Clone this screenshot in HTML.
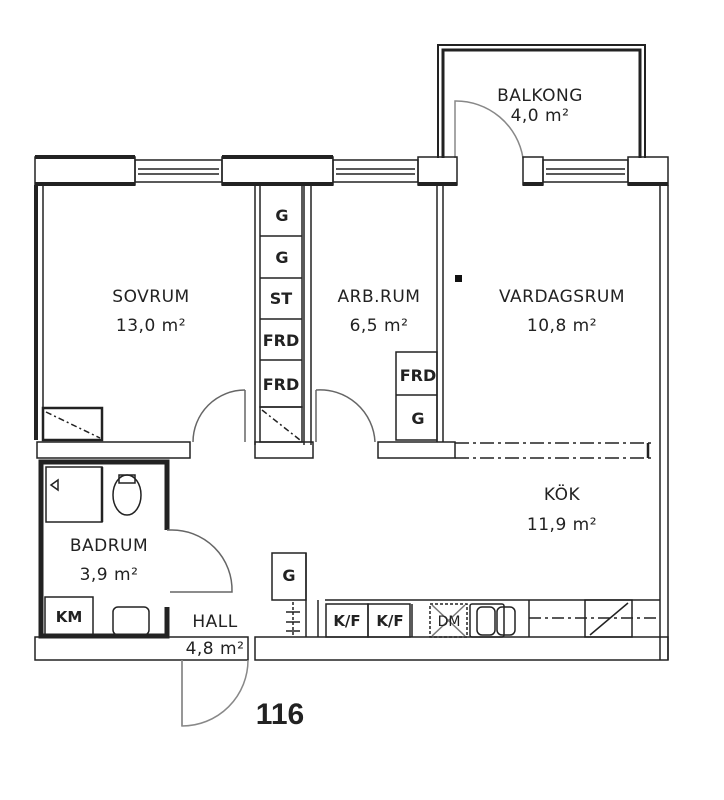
<!DOCTYPE html>
<html><head><meta charset="utf-8"><style>
html,body{margin:0;padding:0;background:#fff}
svg{display:block}
text{font-family:"DejaVu Sans","Liberation Sans",sans-serif;fill:#222}
.lbl{font-size:17px;letter-spacing:0.5px}
.bx{font-family:"Liberation Sans",sans-serif;font-size:16px;font-weight:bold}
</style></head><body>
<svg width="724" height="800" viewBox="0 0 724 800" xmlns="http://www.w3.org/2000/svg">
<g fill="none" stroke="#222" stroke-width="1.5">
<!-- balcony -->
<path d="M438 158 V45 H645 V158" stroke-width="2"/>
<path d="M443 158 V50 H640 V158" stroke-width="3"/>
<!-- balcony door -->
<path d="M455 158 V101 A68 68 0 0 1 523 158" stroke="#888"/>
<!-- top wall -->
<rect x="35" y="157" width="100" height="28" />
<rect x="222" y="157" width="111" height="28"/>
<rect x="418" y="157" width="39" height="28"/>
<rect x="523" y="157" width="20" height="28"/>
<rect x="628" y="157" width="40" height="28"/>
<line x1="35" y1="157" x2="135" y2="157" stroke-width="4"/>
<line x1="222" y1="157" x2="333" y2="157" stroke-width="4"/>
<line x1="35" y1="184" x2="135" y2="184" stroke-width="4"/>
<line x1="222" y1="184" x2="333" y2="184" stroke-width="4"/>
<line x1="418" y1="184" x2="457" y2="184" stroke-width="4"/>
<line x1="523" y1="184" x2="543" y2="184" stroke-width="4"/>
<line x1="628" y1="184" x2="668" y2="184" stroke-width="4"/>
<!-- windows -->
<g>
<rect x="135" y="160" width="87" height="22"/><line x1="138" y1="169" x2="219" y2="169"/><line x1="138" y1="174" x2="219" y2="174"/>
<rect x="333" y="160" width="85" height="22"/><line x1="336" y1="169" x2="415" y2="169"/><line x1="336" y1="174" x2="415" y2="174"/>
<rect x="543" y="160" width="85" height="22"/><line x1="546" y1="169" x2="625" y2="169"/><line x1="546" y1="174" x2="625" y2="174"/>
</g>
<!-- left wall -->
<line x1="36" y1="185" x2="36" y2="440" stroke-width="4"/>
<line x1="43" y1="185" x2="43" y2="440"/>
<!-- right wall -->
<line x1="660" y1="185" x2="660" y2="660"/>
<line x1="668" y1="185" x2="668" y2="660"/>
<!-- closet column -->
<rect x="260" y="185" width="42" height="222"/>
<line x1="260" y1="236" x2="302" y2="236"/>
<line x1="260" y1="278" x2="302" y2="278"/>
<line x1="260" y1="319" x2="302" y2="319"/>
<line x1="260" y1="360" x2="302" y2="360"/>
<line x1="255" y1="185" x2="255" y2="445"/>
<rect x="260" y="407" width="42" height="35"/>
<line x1="262" y1="410" x2="300" y2="440" stroke-dasharray="6 3 2 3"/>
<line x1="304" y1="185" x2="304" y2="445"/>
<line x1="311" y1="185" x2="311" y2="445"/>
<!-- arb/vardagsrum wall -->
<line x1="437" y1="185" x2="437" y2="442"/>
<line x1="443" y1="185" x2="443" y2="442"/>
<rect x="396" y="352" width="41" height="88"/>
<line x1="396" y1="395" x2="437" y2="395"/>
<!-- sovrum box -->
<rect x="43" y="408" width="59" height="32" stroke-width="2.5"/>
<line x1="46" y1="412" x2="100" y2="438" stroke-dasharray="6 3 2 3"/>
<!-- horizontal wall row -->
<rect x="37" y="442" width="153" height="16"/>
<rect x="255" y="442" width="58" height="16"/>
<rect x="378" y="442" width="77" height="16"/>
<line x1="455" y1="443" x2="655" y2="443" stroke-dasharray="14 4 3 4"/>
<line x1="455" y1="458" x2="655" y2="458" stroke-dasharray="14 4 3 4"/>
<line x1="648" y1="443" x2="648" y2="458" stroke-width="2.5"/>
<!-- doors -->
<path d="M245 390 A52 52 0 0 0 193 442" stroke="#666"/>
<line x1="245" y1="390" x2="245" y2="442" stroke="#666"/>
<path d="M316 390 A55 55 0 0 1 375 442" stroke="#666"/>
<line x1="316" y1="390" x2="316" y2="442" stroke="#666"/>
<!-- bathroom -->
<rect x="41" y="462" width="126" height="174" stroke-width="5"/>
<line x1="167" y1="530" x2="167" y2="607" stroke="#fff" stroke-width="7"/>
<rect x="46" y="467" width="56" height="55"/>
<line x1="102" y1="467" x2="102" y2="522" stroke-width="2.5"/>
<ellipse cx="127" cy="495" rx="14" ry="20"/>
<rect x="119" y="475" width="16" height="8"/>
<rect x="45" y="597" width="48" height="40"/>
<rect x="113" y="607" width="36" height="28" rx="5"/>
<path d="M51 485 L58 480 L58 490 Z"/>
<path d="M167 530 H170 A60 60 0 0 1 232 592 H170" stroke="#666"/>
<!-- bottom wall -->
<rect x="35" y="637" width="213" height="23"/>
<rect x="255" y="637" width="413" height="23"/>
<path d="M182 660 V726 A66 66 0 0 0 248 660" stroke="#888"/>
<line x1="182" y1="660" x2="182" y2="726" stroke="#888"/>
<!-- kitchen -->
<rect x="272" y="553" width="34" height="47"/>
<line x1="306" y1="553" x2="306" y2="637"/>
<line x1="318" y1="600" x2="318" y2="637"/>
<line x1="293" y1="602" x2="293" y2="637" stroke-dasharray="3 2"/>
<line x1="286" y1="612" x2="300" y2="612"/><line x1="286" y1="622" x2="300" y2="622"/><line x1="286" y1="631" x2="300" y2="631"/>
<line x1="325" y1="600" x2="660" y2="600"/>
<rect x="326" y="604" width="42" height="33"/>
<rect x="368" y="604" width="42" height="33"/>
<line x1="412" y1="604" x2="412" y2="637"/>
<rect x="430" y="604" width="37" height="33" stroke-dasharray="3 2"/>
<line x1="432" y1="605" x2="465" y2="636" stroke="#777"/><line x1="465" y1="605" x2="432" y2="636" stroke="#777"/>
<rect x="470" y="604" width="34" height="33" rx="2"/>
<rect x="477" y="607" width="18" height="28" rx="5"/><rect x="497" y="607" width="18" height="28" rx="5"/>
<line x1="529" y1="600" x2="529" y2="637"/>
<line x1="529" y1="618" x2="660" y2="618" stroke-dasharray="12 4 3 4"/>
<rect x="585" y="600" width="47" height="37"/>
<line x1="590" y1="635" x2="628" y2="603"/>
</g>
<rect x="455" y="275" width="7" height="7" fill="#111"/>
<text class="lbl" x="540" y="101" text-anchor="middle">BALKONG</text>
<text class="lbl" x="540" y="121" text-anchor="middle">4,0 m²</text>
<text class="lbl" x="151" y="302" text-anchor="middle">SOVRUM</text>
<text class="lbl" x="151" y="331" text-anchor="middle">13,0 m²</text>
<text class="lbl" x="379" y="302" text-anchor="middle">ARB.RUM</text>
<text class="lbl" x="379" y="331" text-anchor="middle">6,5 m²</text>
<text class="lbl" x="562" y="302" text-anchor="middle">VARDAGSRUM</text>
<text class="lbl" x="562" y="331" text-anchor="middle">10,8 m²</text>
<text class="lbl" x="562" y="500" text-anchor="middle">KÖK</text>
<text class="lbl" x="562" y="530" text-anchor="middle">11,9 m²</text>
<text class="lbl" x="109" y="551" text-anchor="middle">BADRUM</text>
<text class="lbl" x="109" y="580" text-anchor="middle">3,9 m²</text>
<text class="lbl" x="215" y="627" text-anchor="middle">HALL</text>
<text class="lbl" x="215" y="654" text-anchor="middle">4,8 m²</text>
<g class="bx" text-anchor="middle">
<text x="282" y="221">G</text><text x="282" y="263">G</text>
<text x="281" y="304">ST</text><text x="281" y="346">FRD</text>
<text x="281" y="390">FRD</text>
<text x="418" y="381">FRD</text><text x="418" y="424">G</text>
<text x="289" y="581">G</text><text x="69" y="622" style="font-size:15px">KM</text>
<text x="347" y="626" style="font-size:15px">K/F</text><text x="390" y="626" style="font-size:15px">K/F</text>
<text x="449" y="626" style="font-size:14px;font-weight:normal">DM</text>
</g>
<text x="280" y="724" text-anchor="middle" style="font-family:'Liberation Sans',sans-serif;font-size:30px;font-weight:bold">116</text>
</svg>
</body></html>
